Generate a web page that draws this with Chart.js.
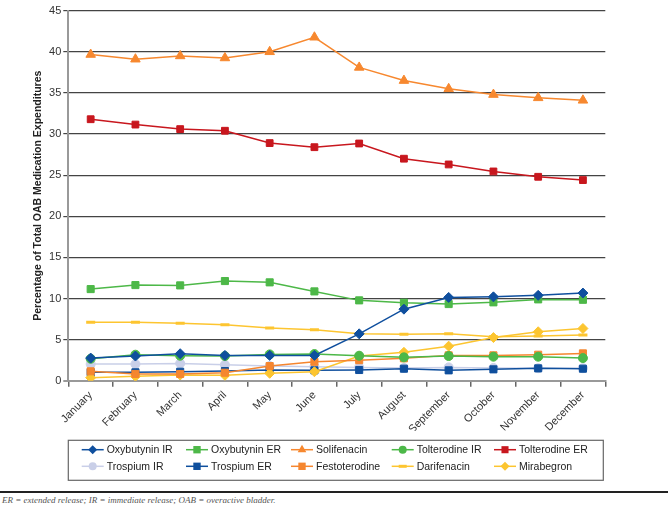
<!DOCTYPE html>
<html>
<head>
<meta charset="utf-8">
<title>OAB Medication Expenditures</title>
<script src="https://cdn.jsdelivr.net/npm/chart.js"></script>
<style>
    body {
        margin: 0;
        background: #fff;
        width: 668px;
        height: 507px;
        overflow: hidden;
        position: relative;
    }

    #chart {
        position: absolute;
        left: 0;
        top: 0;
    }

    .footnote {
        position: absolute;
        left: 0;
        top: 491px;
        width: 668px;
        border-top: 2px solid #222;
        padding: 2px 0 0 2px;
        font-family: "Liberation Serif", "DejaVu Serif", serif;
        font-style: italic;
        font-size: 9px;
        color: #555;
    }
</style>
</head>
<body>

<canvas id="chart" width="668" height="488"></canvas>
<div class="footnote">ER = extended release; IR = immediate release; OAB = overactive bladder.</div>

<script>
    // data
    const months = ['January', 'February', 'March', 'April', 'May', 'June',
        'July', 'August', 'September', 'October', 'November', 'December'];

    const oxybutyninIR  = [2.75, 3.0, 3.28, 3.08, 3.08, 3.08, 5.7, 8.7, 10.13, 10.2, 10.38, 10.66];
    const oxybutyninER  = [11.14, 11.63, 11.59, 12.12, 11.96, 10.86, 9.77, 9.48, 9.32, 9.53, 9.89, 9.84];
    const solifenacin   = [39.67, 39.1, 39.5, 39.25, 40.0, 41.77, 38.1, 36.5, 35.5, 34.8, 34.4, 34.1];
    const tolterodineIR = [2.67, 3.16, 3.04, 3.0, 3.2, 3.24, 3.04, 2.84, 3.0, 2.92, 2.92, 2.75];
    const tolterodineER = [31.8, 31.15, 30.6, 30.4, 28.9, 28.4, 28.85, 27.0, 26.3, 25.45, 24.8, 24.4];
    const trospiumIR    = [2.02, 2.02, 2.1, 1.94, 1.78, 1.7, 1.62, 1.55, 1.62, 1.55, 1.52, 1.52];
    const trospiumER    = [1.02, 1.02, 1.09, 1.17, 1.3, 1.26, 1.3, 1.46, 1.26, 1.38, 1.5, 1.46];
    const festoterodine = [1.14, 0.82, 0.82, 0.97, 1.78, 2.3, 2.5, 2.72, 3.08, 3.08, 3.16, 3.32];
    const darifenacin   = [7.1, 7.1, 7.0, 6.8, 6.4, 6.2, 5.7, 5.65, 5.7, 5.35, 5.45, 5.55];
    const mirabegron    = [0.37, 0.53, 0.69, 0.65, 0.9, 1.09, 3.0, 3.45, 4.2, 5.25, 5.95, 6.35];

    const yTicks = [0, 5, 10, 15, 20, 25, 30, 35, 40, 45];

    // series styles
    const series = [
        { label: 'Oxybutynin IR', data: oxybutyninIR, color: '#0f4f9e', style: 'rectRot', r: 5 },
        { label: 'Oxybutynin ER', data: oxybutyninER, color: '#4db848', style: 'rect', r: 5 },
        { label: 'Solifenacin', data: solifenacin, color: '#f7882f', style: 'triangle', r: 5.5 },
        { label: 'Tolterodine IR', data: tolterodineIR, color: '#4cb848', style: 'circle', r: 4.5 },
        { label: 'Tolterodine ER', data: tolterodineER, color: '#c8171e', style: 'rect', r: 4.8 },
        { label: 'Trospium IR', data: trospiumIR, color: '#c9cfe8', style: 'circle', r: 4.5, order: 2 },
        { label: 'Trospium ER', data: trospiumER, color: '#0f4f9d', style: 'rect', r: 5, order: 1 },
        { label: 'Festoterodine', data: festoterodine, color: '#f5862f', style: 'rect', r: 5 },
        { label: 'Darifenacin', data: darifenacin, color: '#fdc530', style: 'line', r: 4.5 },
        { label: 'Mirabegron', data: mirabegron, color: '#fcc530', style: 'rectRot', r: 5 }
    ];

    const datasets = series.map(s => ({
        label: s.label,
        data: s.data,
        order: s.order || 0,
        borderColor: s.color,
        backgroundColor: s.color,
        borderWidth: 1.5,
        tension: 0,
        pointStyle: s.style,
        pointRadius: s.r,
        pointBorderWidth: s.style === 'line' ? 3 : 1,
        pointBorderColor: s.color,
        pointBackgroundColor: s.color
    }));

    // small marker drawer for the boxed legend
    function drawMarker(ctx, style, r, x, y, color) {
        ctx.save();
        ctx.fillStyle = color;
        ctx.strokeStyle = color;
        ctx.beginPath();
        if (style === 'circle') {
            ctx.arc(x, y, r, 0, Math.PI * 2);
            ctx.fill();
        } else if (style === 'rect') {
            const s = r * Math.SQRT1_2 + 0.5;
            ctx.fillRect(x - s, y - s, 2 * s, 2 * s);
        } else if (style === 'rectRot') {
            ctx.moveTo(x, y - r);
            ctx.lineTo(x + r, y);
            ctx.lineTo(x, y + r);
            ctx.lineTo(x - r, y);
            ctx.closePath();
            ctx.fill();
        } else if (style === 'triangle') {
            ctx.moveTo(x, y - r);
            ctx.lineTo(x + r * 0.866, y + r / 2);
            ctx.lineTo(x - r * 0.866, y + r / 2);
            ctx.closePath();
            ctx.fill();
        } else if (style === 'line') {
            ctx.lineWidth = 3;
            ctx.moveTo(x - r, y);
            ctx.lineTo(x + r, y);
            ctx.stroke();
        }
        ctx.restore();
    }

    const boxLegend = {
        id: 'boxLegend',
        afterDraw(chart) {
            const ctx = chart.ctx;
            const colX = [81.7, 186, 291, 391.7, 494];
            const rowY = [449.7, 466.3];

            ctx.save();
            ctx.strokeStyle = '#666';
            ctx.lineWidth = 1.2;
            ctx.strokeRect(68.3, 440.3, 535, 40);

            ctx.font = '10.5px "Liberation Sans", Arial, sans-serif';
            ctx.fillStyle = '#222';
            ctx.textBaseline = 'middle';
            ctx.textAlign = 'left';

            series.forEach((s, i) => {
                const x = colX[i % 5];
                const y = rowY[Math.floor(i / 5)];
                ctx.strokeStyle = s.color;
                ctx.lineWidth = 1.5;
                ctx.beginPath();
                ctx.moveTo(x, y);
                ctx.lineTo(x + 22, y);
                ctx.stroke();
                drawMarker(ctx, s.style, s.r - 0.5, x + 11, y, s.color);
                ctx.fillText(s.label, x + 25, y + 0.5);
            });
            ctx.restore();
        }
    };

    Chart.defaults.font.family = '"Liberation Sans", Arial, sans-serif';

    const ctx = document.getElementById('chart').getContext('2d');
    new Chart(ctx, {
        type: 'line',
        data: { labels: months, datasets: datasets },
        plugins: [boxLegend],
        options: {
            responsive: false,
            animation: false,
            layout: {
                padding: { left: 28, top: 10.7, right: 62.7, bottom: 57.3 }
            },
            plugins: {
                legend: { display: false },
                tooltip: { enabled: false }
            },
            scales: {
                x: {
                    offset: true,
                    afterFit: (scale) => { scale.height = 50; },
                    border: { color: '#999', width: 2 },
                    grid: {
                        offset: true,
                        drawOnChartArea: false,
                        drawTicks: true,
                        tickLength: 6,
                        color: '#666',
                        lineWidth: 1.5
                    },
                    ticks: {
                        autoSkip: false,
                        minRotation: 45,
                        maxRotation: 45,
                        padding: 2,
                        color: '#333',
                        font: { size: 11 }
                    }
                },
                y: {
                    min: 0,
                    max: 45,
                    afterFit: (scale) => { scale.width = 40.3; },
                    afterBuildTicks: (scale) => { scale.ticks = yTicks.map(v => ({ value: v })); },
                    border: { color: '#999', width: 2 },
                    grid: {
                        color: (c) => (c.tick && c.tick.value === 0) ? '#999' : '#444',
                        lineWidth: (c) => (c.tick && c.tick.value === 0) ? 2 : 1.2,
                        tickLength: 5
                    },
                    ticks: {
                        padding: 2,
                        color: '#333',
                        font: { size: 11 }
                    },
                    title: {
                        display: true,
                        text: 'Percentage of Total OAB Medication Expenditures',
                        color: '#222',
                        font: { size: 10.5, weight: 'bold' }
                    }
                }
            }
        }
    });
</script>

</body>
</html>
